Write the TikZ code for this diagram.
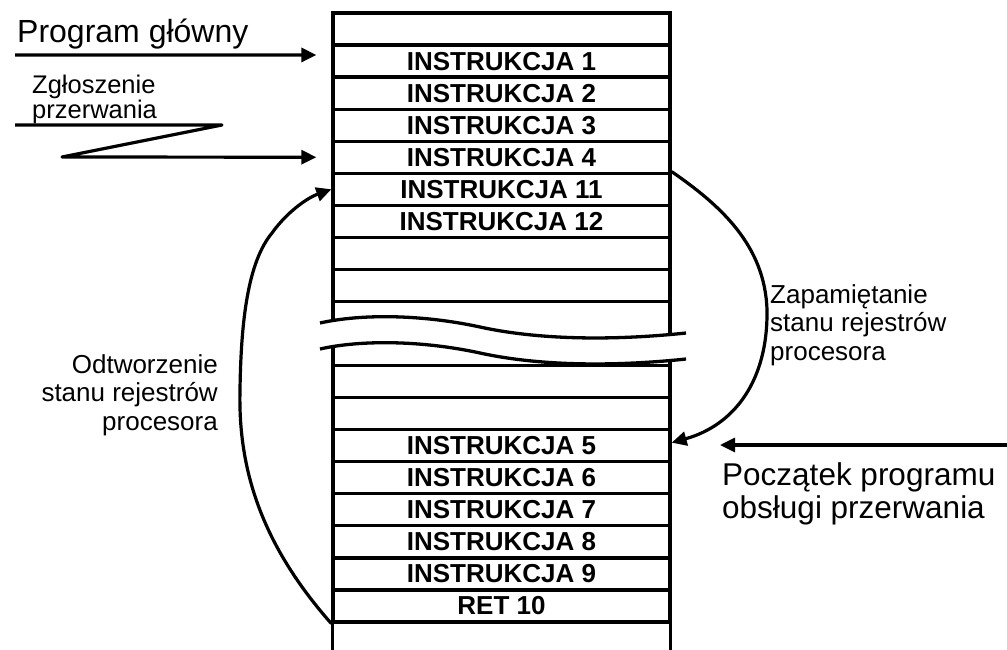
\documentclass[tikz,border=0pt]{standalone}
\usepackage{fontspec}
\setmainfont{Liberation Sans}
\usetikzlibrary{arrows.meta}
\begin{document}
\begin{tikzpicture}[x=1pt,y=-1pt,
  tline/.style={line width=3.3pt},
  row/.style={draw,tline,rectangle,minimum width=337pt,minimum height=32.05pt,inner sep=0pt,
    font=\fontsize{26}{28}\selectfont\bfseries},
  arr/.style={line width=3.2pt,-{Triangle[length=15pt,width=14pt]}},
  lbl/.style={inner sep=0pt},
]
\useasboundingbox (0,0) rectangle (1007,649);
% table rows
\foreach \i/\t in {0/{},1/INSTRUKCJA 1,2/INSTRUKCJA 2,3/INSTRUKCJA 3,4/INSTRUKCJA 4,
  5/INSTRUKCJA 11,6/INSTRUKCJA 12,7/{},8/{},11/{},12/{},13/INSTRUKCJA 5,14/INSTRUKCJA 6,
  15/INSTRUKCJA 7,16/INSTRUKCJA 8,17/INSTRUKCJA 9,18/RET 10}
  \node[row] (r\i) at (501.5,{13+32.05*(\i+0.5)}) {\t};
\node[row,minimum height=64.1pt] (rb) at (501.5,333.5) {};
\node[inner sep=0pt,minimum width=337pt,minimum height=32pt] (r19) at (501.5,638) {};
\draw[tline] (r19.north west) -- (r19.south west) (r19.north east) -- (r19.south east);
% break
\fill[white] (320,323) .. controls (360,314) and (420,314) .. (480,327)
  .. controls (530,338) and (600,342) .. (686,333)
  -- (686,359) .. controls (600,368) and (530,364) .. (480,353)
  .. controls (420,340) and (360,340) .. (320,349) -- cycle;
\draw[tline] (320,323) .. controls (360,314) and (420,314) .. (480,327)
  .. controls (530,338) and (600,342) .. (686,333);
\draw[tline] (320,349) .. controls (360,340) and (420,340) .. (480,353)
  .. controls (530,364) and (600,368) .. (686,359);
% labels
\node[lbl,anchor=base west,font=\fontsize{32}{34}\selectfont] (pg) at (17,42) {Program główny};
\node[lbl,anchor=north west,align=left,font=\fontsize{25.5}{25}\selectfont] (zg) at (32,74.5) {Zgłoszenie\\przerwania};
\node[lbl,anchor=north east,align=right,font=\fontsize{26}{28.5}\selectfont] (od) at (218,354) {Odtworzenie\\stanu rejestrów\\procesora};
\node[lbl,anchor=north west,align=left,font=\fontsize{26}{28.5}\selectfont] (za) at (770,284) {Zapamiętanie\\stanu rejestrów\\procesora};
\node[lbl,anchor=north west,align=left,font=\fontsize{31.5}{33}\selectfont] (pp) at (722,462.3) {Początek programu\\obsługi przerwania};
% arrows
\coordinate (pgs) at (15,55);
\draw[arr] (pgs) -- ([xshift=-15pt,yshift=6.1pt]r1.west);
\coordinate (zs) at (15,125);
\coordinate (z1) at (222,125);
\coordinate (z2) at (62,157);
\draw[arr,line join=round] (zs) -- (z1) -- (z2) -- ([xshift=-15pt]r4.west);
\coordinate (ps) at (1007,445);
\coordinate (pe) at (720,445);
\draw[arr] (ps) -- (pe);
\draw[arr] (r5.north east) .. controls (720,205) and (765,245) .. (767,310)
  .. controls (768,380) and (735,425) .. ([yshift=3pt]r13.east);
\draw[arr] (r18.south west) .. controls (262,545) and (238,470) .. (240,390)
  .. controls (241,320) and (248,262) .. (272,233)
  .. controls (287,212) and (307,198) .. (r5.west);
\end{tikzpicture}
\end{document}
